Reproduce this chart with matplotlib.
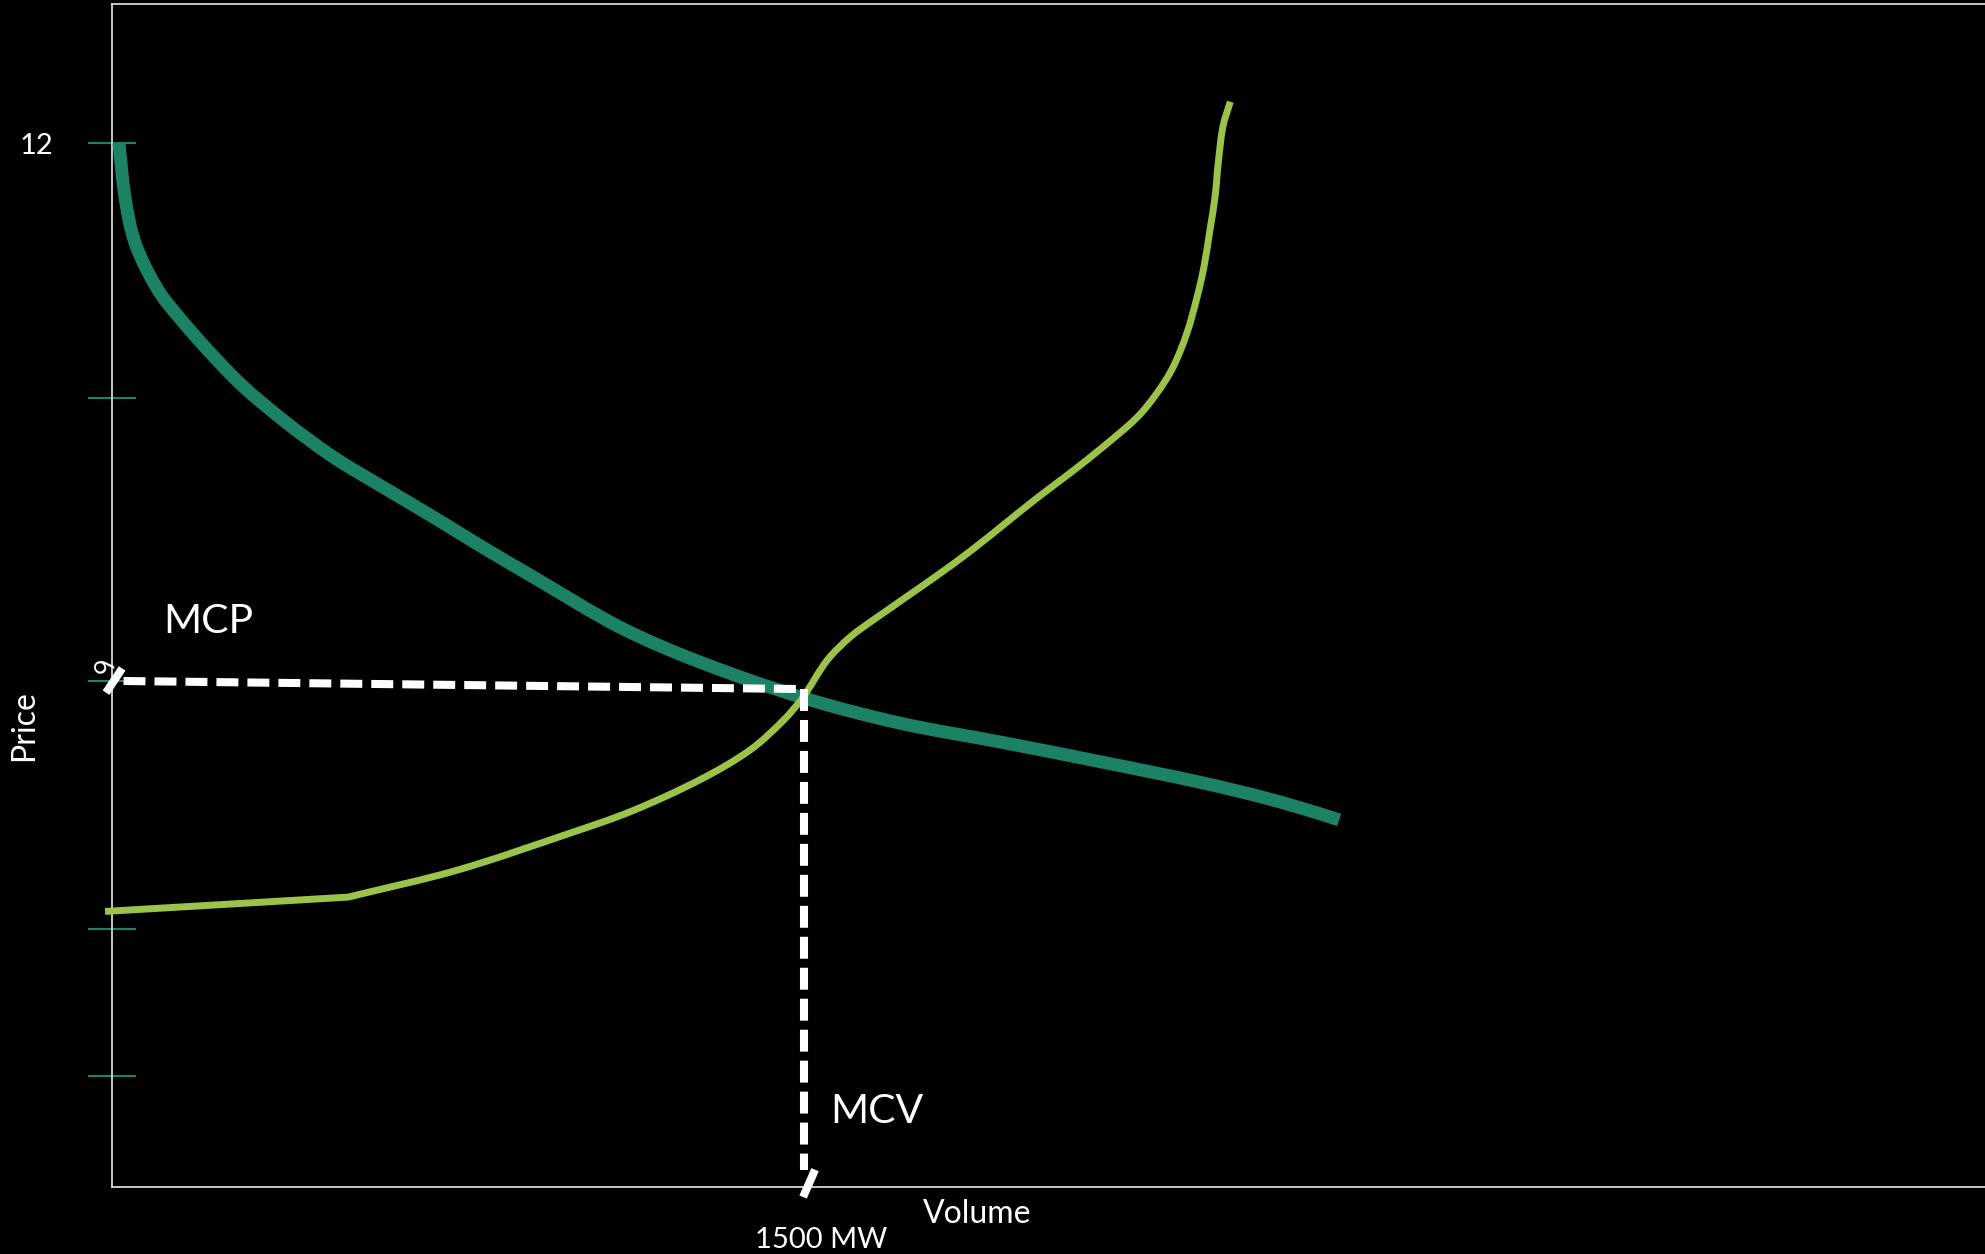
import matplotlib
matplotlib.use("Agg")
import numpy as np
import matplotlib.pyplot as plt
from matplotlib.path import Path
from matplotlib.patches import PathPatch

plt.rcParams['font.family'] = ['Lato', 'DejaVu Sans']
plt.rcParams['lines.scale_dashes'] = False

# demand curve (volume MW, price)
demand_vol = [15, 28, 46, 76, 119, 263, 371, 479, 588, 696, 804, 913, 1101,
              1275, 1500, 1708, 1925, 2142, 2359, 2504, 2612, 2660]
demand_price = [12.0, 11.40, 10.95, 10.58, 10.22, 9.39, 8.91, 8.50, 8.16, 7.83,
                7.49, 7.16, 6.60, 6.21, 5.81, 5.53, 5.32, 5.10, 4.87, 4.69, 4.53, 4.45]

# supply curve (first segment is a straight run up to the kink)
supply_vol = [-15, 512, 748, 991, 1127, 1275, 1383, 1455, 1498, 1550, 1600, 1650, 1678,
              1843, 2005, 2077, 2148, 2222, 2265, 2300, 2330, 2352, 2367, 2380,
              2391, 2398, 2408, 2424]
supply_price = [3.43, 3.59, 3.89, 4.30, 4.55, 4.90, 5.23, 5.56, 5.82, 6.23, 6.49, 6.68,
                6.78, 7.38, 8.04, 8.32, 8.61, 8.94, 9.21, 9.50, 9.88, 10.28,
                10.62, 11.03, 11.40, 11.78, 12.18, 12.46]

# market clearing point
mcv = 1500
mcp = 6.0
mcp_at_mcv = 5.91

# y tick marks (only 12 and 6 labelled)
ytick_vals = [1.59, 3.23, 6.0, 9.16, 12.0]

teal = '#1b8266'
lime = '#9bc349'

fig = plt.figure(figsize=(19.85, 12.54), dpi=100, facecolor='black')
ax = fig.add_axes([112 / 1985, 67 / 1254, 1 - 112 / 1985, 1183 / 1254])
ax.set_facecolor('black')
ax.set_xlim(0, 4060)
ax.set_ylim(0.357, 13.55)

for side in ['left', 'bottom', 'top']:
    ax.spines[side].set_color('#d8d8d8')
    ax.spines[side].set_linewidth(1.3)
ax.spines['right'].set_visible(False)

ax.set_xticks([])
ax.set_yticks(ytick_vals)
ax.tick_params(axis='y', direction='inout', length=35, width=1.5, color=teal,
               labelleft=False)


def smooth_curve(xs, ys, color, lw, z, straight_first=False):
    # smooth bezier through the points, built in screen space so the shape is not skewed
    pts = ax.transData.transform(np.column_stack([xs, ys]))
    n = len(pts)
    d = np.linalg.norm(np.diff(pts, axis=0), axis=1)
    tang = np.zeros_like(pts)
    tang[0] = (pts[1] - pts[0]) / d[0]
    tang[-1] = (pts[-1] - pts[-2]) / d[-1]
    for i in range(1, n - 1):
        tang[i] = (pts[i + 1] - pts[i - 1]) / (d[i - 1] + d[i])
    start = 0
    verts = [pts[0]]
    codes = [Path.MOVETO]
    if straight_first:
        verts.append(pts[1])
        codes.append(Path.LINETO)
        tang[1] = (pts[2] - pts[1]) / d[1]
        start = 1
    for i in range(start, n - 1):
        verts += [pts[i] + tang[i] * d[i] / 3, pts[i + 1] - tang[i + 1] * d[i] / 3, pts[i + 1]]
        codes += [Path.CURVE4] * 3
    verts = ax.transData.inverted().transform(np.array(verts))
    patch = PathPatch(Path(verts, codes), fill=False, edgecolor=color, lw=lw,
                      capstyle='butt', joinstyle='miter', clip_on=False, zorder=z)
    ax.add_patch(patch)


smooth_curve(demand_vol, demand_price, teal, 9.3, 3)
smooth_curve(supply_vol, supply_price, lime, 5, 4, straight_first=True)

# dashed guides
ax.plot([25, mcv], [mcp, mcp_at_mcv], color='white', lw=5.8, dashes=(15.8, 6.5),
        clip_on=False, zorder=5)
ax.plot([mcv, mcv], [mcp_at_mcv, 0.55], color='white', lw=5.8, dashes=(15.8, 6.5),
        clip_on=False, zorder=5)
ax.plot([22, -13], [6.14, 5.87], color='white', lw=5.8, solid_capstyle='butt',
        clip_on=False, zorder=5)
ax.plot([1524, 1498], [0.55, 0.245], color='white', lw=5.8, solid_capstyle='butt',
        clip_on=False, zorder=5)

W, H = 1985, 1254
fig.text(37 / W, 1 - 146 / H, '12', color='white', fontsize=21, ha='center', va='center')
fig.text(99 / W, 1 - 667 / H, '6', color='white', fontsize=19, ha='center', va='center',
         rotation=-80)
fig.text(163 / W, 1 - 633 / H, 'MCP', color='white', fontsize=29.5, ha='left', va='baseline')
fig.text(830 / W, 1 - 1123 / H, 'MCV', color='white', fontsize=29.5, ha='left', va='baseline')
fig.text(923 / W, 1 - 1223 / H, 'Volume', color='white', fontsize=23, ha='left', va='baseline')
fig.text(755 / W, 1 - 1248 / H, '1500 MW', color='white', fontsize=21, ha='left', va='baseline')
fig.text(24 / W, 1 - 726 / H, 'Price', color='white', fontsize=23, ha='center', va='center',
         rotation=90)

fig.savefig('out.png', dpi=100, facecolor='black')
